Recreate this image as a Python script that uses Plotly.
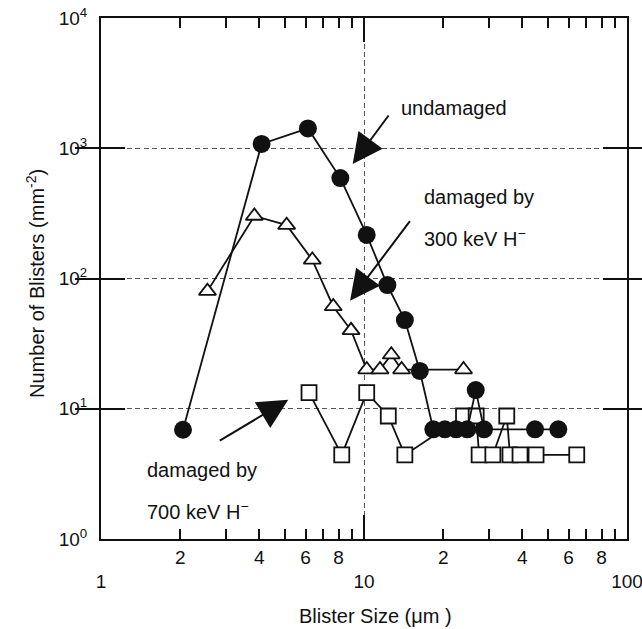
import plotly.graph_objects as go

# ---- data ----
undamaged_x = [2.05, 4.08, 6.12, 8.13, 10.24, 12.27, 14.3, 16.3, 18.35, 20.3, 22.4, 24.7, 26.6, 28.6, 44.7, 54.8]
undamaged_y = [6.9, 1080, 1420, 590, 216, 89, 48, 19.5, 6.95, 6.95, 6.95, 6.95, 13.9, 6.95, 6.95, 6.95]

h300_x = [2.54, 3.83, 5.08, 6.36, 7.64, 8.93, 10.24, 11.5, 12.7, 13.9, 23.9]
h300_y = [80, 302, 257, 139, 61, 40, 20, 20, 26, 20, 20]

h700_x = [6.18, 8.23, 10.24, 12.37, 14.3, 23.9, 26.7, 27.4, 30.9, 34.9, 35.9, 39.2, 45.1, 64.4]
h700_y = [13.3, 4.42, 13.3, 8.8, 4.42, 8.8, 8.8, 4.42, 4.42, 8.8, 4.42, 4.42, 4.42, 4.42]

x_major_vals = [1, 10, 100]
x_major_text = ["1", "10", "100"]
x_minor_vals = [2, 3, 4, 5, 6, 7, 8, 9, 20, 30, 40, 50, 60, 70, 80, 90]
x_minor_text = ["2", "", "4", "", "6", "", "8", "", "2", "", "4", "", "6", "", "8", ""]
y_vals = [1, 10, 100, 1000, 10000]
y_text = ["10<sup>0</sup>", "10<sup>1</sup>", "10<sup>2</sup>", "10<sup>3</sup>", "10<sup>4</sup>"]

FONT = "Arial, Liberation Sans, Helvetica, sans-serif"
INK = "#111"

fig = go.Figure()
fig.add_trace(go.Scatter(
    x=h700_x, y=h700_y, mode="lines+markers", name="700 keV",
    line=dict(color=INK, width=1.8),
    marker=dict(symbol="square", size=15, color="white", line=dict(color=INK, width=1.8)),
))
fig.add_trace(go.Scatter(
    x=h300_x, y=h300_y, mode="lines+markers", name="300 keV",
    line=dict(color=INK, width=1.8),
    marker=dict(symbol="triangle-up", size=15, color="white", line=dict(color=INK, width=1.8)),
))
fig.add_trace(go.Scatter(
    x=undamaged_x, y=undamaged_y, mode="lines+markers", name="undamaged",
    xaxis="x2",
    line=dict(color=INK, width=1.8),
    marker=dict(symbol="circle", size=18, color=INK, line=dict(width=0)),
))

grid = dict(gridcolor="#555", gridwidth=1, griddash="5px,3.5px")
tickfont = dict(family=FONT, size=19, color=INK)

fig.update_layout(
    width=642, height=629, autosize=False,
    margin=dict(l=101, r=15, t=18, b=90, autoexpand=False),
    paper_bgcolor="white", plot_bgcolor="white",
    showlegend=False,
    font=dict(family=FONT, size=19, color=INK),
    xaxis=dict(
        type="log", range=[0, 2], automargin=False,
        tickmode="array", tickvals=x_major_vals, ticktext=x_major_text,
        ticks="inside", ticklen=24, tickwidth=2, tickcolor=INK,
        showline=True, linecolor=INK, linewidth=2, mirror="allticks",
        showgrid=True, **grid, tickfont=tickfont, ticklabeloverflow="allow",
        ticklabelstandoff=24, zeroline=False,
    ),
    xaxis2=dict(
        type="log", range=[0, 2], overlaying="x", anchor="y", side="bottom",
        automargin=False,
        tickmode="array", tickvals=x_minor_vals, ticktext=x_minor_text,
        ticks="inside", ticklen=10, tickwidth=1.5, tickcolor=INK,
        showline=False, mirror="allticks",
        showgrid=False, zeroline=False, tickfont=tickfont, ticklabeloverflow="allow",
        ticklabelstandoff=5,
    ),
    yaxis=dict(
        type="log", range=[0, 4], automargin=False,
        tickmode="array", tickvals=y_vals, ticktext=y_text,
        ticks="inside", ticklen=24, tickwidth=2, tickcolor=INK,
        showline=True, linecolor=INK, linewidth=2, mirror="allticks",
        showgrid=True, **grid, tickfont=tickfont, ticklabeloverflow="allow",
        ticklabelstandoff=8, zeroline=False,
    ),
)

ann_font = dict(family=FONT, size=20, color=INK)
arrow_common = dict(showarrow=True, arrowhead=2, arrowsize=3, arrowwidth=2,
                    arrowcolor=INK, axref="pixel", ayref="pixel", text="")
# arrows (head position in log10 data units, tail offset in pixels)
fig.add_annotation(x=0.957, y=2.879, ax=37, ay=-50, **arrow_common)
fig.add_annotation(x=0.947, y=1.830, ax=61, ay=-81, **arrow_common)
fig.add_annotation(x=0.712, y=1.070, ax=-70, ay=42, **arrow_common)

labels = [
    (1.133, 3.309, "undamaged"),
    (1.2205, 2.626, "damaged by"),
    (1.2205, 2.3186, "300 keV H<sup>\u2212</sup>"),
    (0.1673, 0.530, "damaged by"),
    (0.1673, 0.2173, "700 keV H<sup>\u2212</sup>"),
]
for lx, ly, t in labels:
    fig.add_annotation(x=lx, y=ly, text=t, showarrow=False, xanchor="left",
                       yanchor="middle", font=ann_font)

# axis titles
fig.add_annotation(xref="paper", yref="paper", x=0.521, y=-0.148, text="Blister Size (\u03bcm )",
                   showarrow=False, xanchor="center", yanchor="middle", font=ann_font)
fig.add_annotation(xref="paper", yref="paper", x=-0.125, y=0.49,
                   text="Number of Blisters (mm<sup>-2</sup>)", textangle=-90,
                   showarrow=False, xanchor="center", yanchor="middle", font=ann_font)

fig.write_html(
    "out.html",
    config={"displayModeBar": False},
    post_script=(
        "document.documentElement.style.margin='0';"
        "document.documentElement.style.overflow='hidden';"
        "document.body.style.margin='0';document.body.style.padding='0';"
        "document.body.style.overflow='hidden';"
    ),
)
